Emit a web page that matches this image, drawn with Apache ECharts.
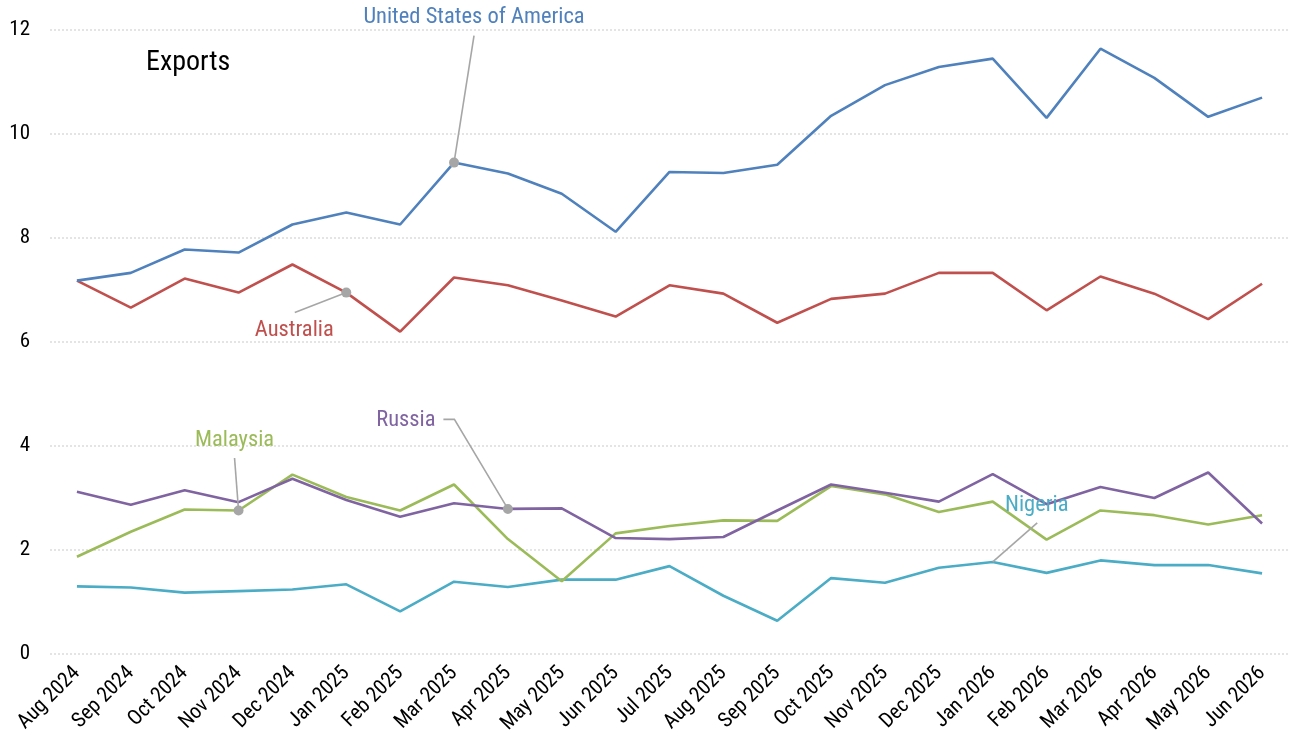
<!DOCTYPE html>
<html><head><meta charset="utf-8">
<script src="https://cdn.jsdelivr.net/npm/echarts@6/dist/echarts.min.js"></script>
<style>html,body{margin:0;padding:0;background:#fff}#c{width:1289px;height:755px}</style>
</head><body><div id="c"></div>
<script>
const months = ["Aug 2024","Sep 2024","Oct 2024","Nov 2024","Dec 2024","Jan 2025","Feb 2025","Mar 2025","Apr 2025","May 2025","Jun 2025","Jul 2025","Aug 2025","Sep 2025","Oct 2025","Nov 2025","Dec 2025","Jan 2026","Feb 2026","Mar 2026","Apr 2026","May 2026","Jun 2026"];
const usa = [7.18,7.33,7.78,7.72,8.26,8.49,8.26,9.45,9.24,8.85,8.12,9.27,9.25,9.41,10.35,10.94,11.29,11.45,10.31,11.64,11.08,10.33,10.70];
const australia = [7.18,6.66,7.22,6.95,7.49,6.95,6.20,7.24,7.09,6.80,6.49,7.09,6.93,6.37,6.83,6.93,7.33,7.33,6.61,7.26,6.93,6.44,7.12];
const russia = [3.12,2.87,3.15,2.92,3.37,2.96,2.64,2.90,2.79,2.80,2.23,2.21,2.25,2.76,3.26,3.10,2.93,3.46,2.88,3.21,3.00,3.49,2.51];
const malaysia = [1.87,2.35,2.78,2.76,3.45,3.02,2.76,3.26,2.21,1.40,2.32,2.46,2.57,2.56,3.23,3.07,2.73,2.93,2.20,2.76,2.67,2.49,2.67];
const nigeria = [1.30,1.28,1.18,1.21,1.24,1.34,0.82,1.39,1.29,1.43,1.43,1.69,1.12,0.64,1.46,1.37,1.66,1.77,1.56,1.80,1.71,1.71,1.55];
const yTicks = [0,2,4,6,8,10,12];
const seriesNames = ["United States of America","Australia","Russia","Malaysia","Nigeria"];
const seriesData = [usa, australia, russia, malaysia, nigeria];
const colors = ["#4f81bd","#c0504d","#8064a2","#9bbb59","#4bacc6"];
const chartTitle = "Exports";
// annotation anchors: series index and month
const annotations = [
  {s:0, m:"Mar 2025", dot:true},
  {s:1, m:"Jan 2025", dot:true},
  {s:3, m:"Nov 2024", dot:true},
  {s:2, m:"Apr 2025", dot:true},
  {s:4, m:"Jan 2026", dot:false}
];
const FONT = "'Roboto Condensed','Roboto',sans-serif";
const chart = echarts.init(document.getElementById('c'), null, {renderer:'canvas'});
chart.setOption({
  animation:false,
  backgroundColor:'#fff',
  grid:{left:50,right:-3,top:30,bottom:101,containLabel:false},
  xAxis:{type:'category',data:months,boundaryGap:true,
    axisLine:{show:false},axisTick:{show:false},
    axisLabel:{rotate:45,fontSize:21,color:'#000',fontFamily:FONT,margin:16,interval:0}},
  yAxis:{type:'value',min:yTicks[0],max:yTicks[yTicks.length-1],interval:2,
    axisLine:{show:false},axisTick:{show:false},
    axisLabel:{fontSize:21,color:'#000',fontFamily:FONT,margin:20},
    splitLine:{show:true,lineStyle:{color:'#dcdcdc',type:[2,2],width:1.5}}},
  series: seriesNames.map((n,i)=>({name:n,type:'line',data:seriesData[i],symbol:'none',
    lineStyle:{color:colors[i],width:2.6},z: 10-i}))
});
// offsets of annotation text / leader lines relative to anchor point
const annLayout = [
  {text:[20,-145], line:[[20,-127]]},
  {text:[-52,38], line:[[-51.5,20]]},
  {text:[-4,-70], line:[[-4,-52.5]]},
  {text:[-102,-89], line:[[-53.5,-89.5],[-64.5,-89.5]]},
  {text:[44,-57], line:[[44.5,-39]]}
];
const g = [];
g.push({type:'text',x:146,y:63,style:{text:chartTitle,fill:'#000',font:'28px '+FONT,align:'left',verticalAlign:'middle'},z:22});
annotations.forEach((a,k)=>{
  const idx = months.indexOf(a.m);
  const p = chart.convertToPixel({seriesIndex:a.s},[idx, seriesData[a.s][idx]]);
  const L = annLayout[k];
  const pts = [[p[0],p[1]]].concat(L.line.map(o=>[p[0]+o[0],p[1]+o[1]]));
  g.push({type:'polyline',shape:{points:pts},style:{stroke:'#a6a6a6',lineWidth:1.6,fill:null},z:20});
  if (a.dot) g.push({type:'circle',shape:{cx:p[0],cy:p[1],r:5},style:{fill:'#a6a6a6'},z:21});
  g.push({type:'text',x:p[0]+L.text[0],y:p[1]+L.text[1],style:{text:seriesNames[a.s],fill:colors[a.s],
    font:'22.5px '+FONT,align:'center',verticalAlign:'middle'},z:22});
});
chart.setOption({graphic:g});
</script></body></html>
